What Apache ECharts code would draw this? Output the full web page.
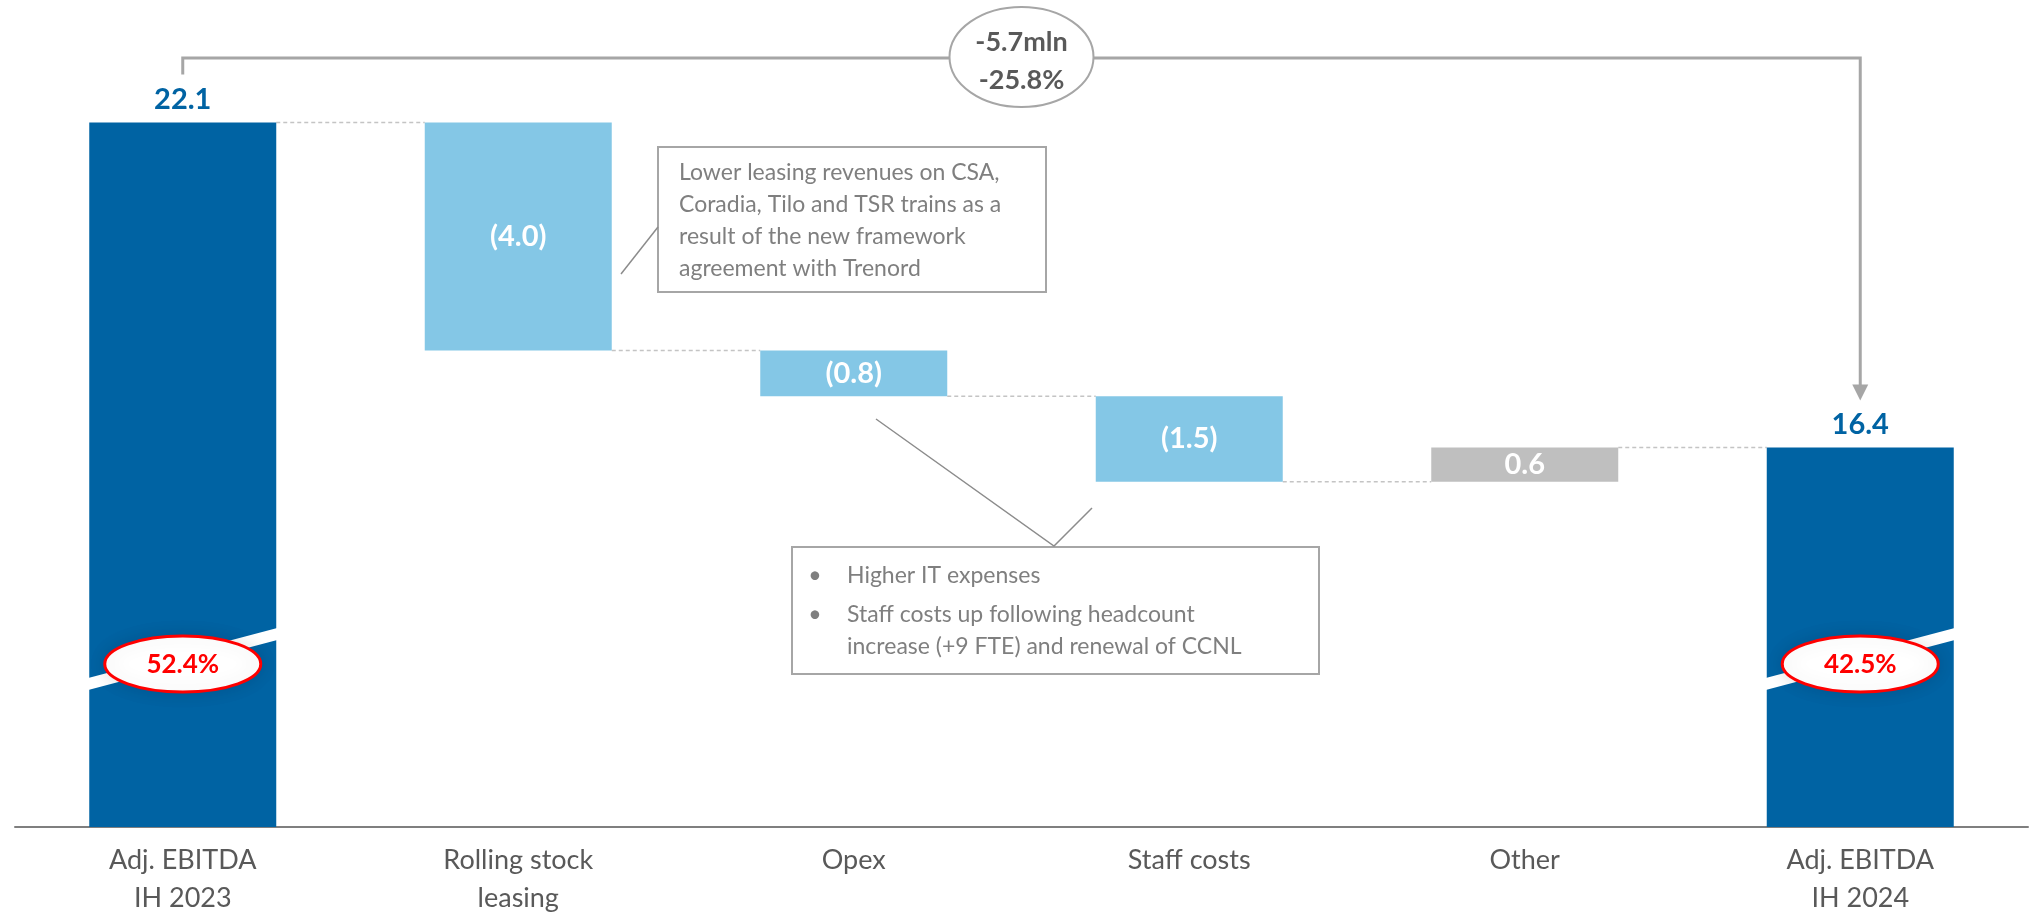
<!DOCTYPE html>
<html lang="en">
<head>
    <meta charset="UTF-8">
    <title>Adj. EBITDA bridge</title>
    <script src="https://cdn.jsdelivr.net/npm/echarts@6/dist/echarts.min.js"></script>
    <style>
        html, body {
            margin: 0;
            height: 100%;
            width: 100%;
            overflow: hidden;
            background: #fff;
        }
        #chart {
            width: 2031px;
            height: 917px;
        }
    </style>
</head>
<body>
<div id="chart"></div>
<script>
    // data
    var categories = ['Adj. EBITDA\nIH 2023', 'Rolling stock\nleasing', 'Opex', 'Staff costs', 'Other', 'Adj. EBITDA\nIH 2024'];
    var startTotal = 22.1;
    var endTotal = 16.4;
    var deltas = [-4.0, -0.8, -1.5, 0.6];
    var barLabels = ['22.1', '(4.0)', '(0.8)', '(1.5)', '0.6', '16.4'];
    var marginLabels = ['52.4%', '42.5%'];
    var changeLabels = ['-5.7mln', '-25.8%'];
    var note1 = ['Lower leasing revenues on CSA,', 'Coradia, Tilo and TSR trains as a', 'result of the new framework', 'agreement with Trenord'];
    var note2a = 'Higher IT expenses';
    var note2b = ['Staff costs up following headcount', 'increase (+9 FTE) and renewal of CCNL'];

    var FONT = 'Lato, "Open Sans", sans-serif';
    var DARK = '#0063A3', LIGHT = '#84C7E6', GREY = '#BFBFBF';
    var barW = 187;

    // waterfall helpers
    var base = [0], visible = [startTotal], levels = [startTotal];
    var running = startTotal;
    deltas.forEach(function (d) {
        if (d < 0) {
            base.push(running + d);
            visible.push(-d);
        } else {
            base.push(running);
            visible.push(d);
        }
        running = Math.round((running + d) * 10) / 10;
        levels.push(running);
    });
    base.push(0);
    visible.push(endTotal);

    var visData = visible.map(function (v, i) {
        var total = (i === 0 || i === visible.length - 1);
        var col = total ? DARK : (deltas[i - 1] < 0 ? LIGHT : GREY);
        return {
            value: v,
            itemStyle: {color: col},
            label: {
                show: true,
                position: total ? 'top' : 'inside',
                distance: 8,
                color: total ? DARK : '#fff',
                formatter: barLabels[i]
            }
        };
    });

    var connData = levels.map(function (v, i) {
        return [i, v];
    });

    var chart = echarts.init(document.getElementById('chart'));
    chart.setOption({
        animation: false,
        grid: {left: 15, right: 3, top: 14, bottom: 87},
        xAxis: {
            type: 'category',
            data: categories,
            axisTick: {show: false},
            axisLine: {lineStyle: {color: '#7F7F7F', width: 2}},
            axisLabel: {
                fontFamily: FONT,
                fontSize: 27,
                color: '#595959',
                lineHeight: 38,
                margin: 14
            }
        },
        yAxis: {
            type: 'value',
            min: 9.75,
            max: 24,
            show: false,
            splitLine: {show: false}
        },
        series: [
            {
                type: 'bar',
                stack: 'wf',
                barWidth: barW,
                itemStyle: {color: 'transparent'},
                data: base,
                silent: true
            },
            {
                type: 'bar',
                stack: 'wf',
                barWidth: barW,
                label: {fontFamily: FONT, fontSize: 29, fontWeight: 'bold'},
                data: visData
            },
            {
                type: 'custom',
                data: connData,
                silent: true,
                z: 1,
                renderItem: function (params, api) {
                    var i = api.value(0), v = api.value(1);
                    var p1 = api.coord([i, v]);
                    var p2 = api.coord([i + 1, v]);
                    return {
                        type: 'line',
                        shape: {x1: p1[0] + barW / 2, y1: p1[1], x2: p2[0] - barW / 2, y2: p2[1]},
                        style: {stroke: '#C4C4C4', lineWidth: 1.5, lineDash: [4, 3]}
                    };
                }
            }
        ]
    });

    // annotations
    var x0 = chart.convertToPixel({xAxisIndex: 0}, 0);
    var x5 = chart.convertToPixel({xAxisIndex: 0}, 5);
    var yStart = chart.convertToPixel({yAxisIndex: 0}, startTotal);
    var yEnd = chart.convertToPixel({yAxisIndex: 0}, endTotal);
    var lineCol = '#A6A6A6';
    var topY = 58;
    var g = [];

    // bracket with arrow
    g.push({
        type: 'polyline', z: 100,
        shape: {points: [[x0, yStart - 48], [x0, topY], [x5, topY], [x5, yEnd - 62]]},
        style: {stroke: lineCol, lineWidth: 3, fill: null}
    });
    g.push({
        type: 'polygon', z: 100,
        shape: {points: [[x5 - 8, yEnd - 63], [x5 + 8, yEnd - 63], [x5, yEnd - 47]]},
        style: {fill: lineCol}
    });
    var midX = (x0 + x5) / 2;
    g.push({
        type: 'ellipse', z: 101,
        shape: {cx: midX, cy: 57, rx: 72, ry: 50},
        style: {fill: '#fff', stroke: lineCol, lineWidth: 2}
    });
    g.push({
        type: 'text', z: 102,
        x: midX, y: 61,
        style: {
            text: changeLabels.join('\n'),
            align: 'center', verticalAlign: 'middle',
            font: 'bold 27px ' + FONT, lineHeight: 38, fill: '#595959'
        }
    });

    // axis-break stripes and margin ovals on the totals
    [x0, x5].forEach(function (cx, k) {
        var yMid = 659;
        g.push({
            type: 'polygon', z: 100,
            shape: {points: [
                [cx - barW / 2 - 1, yMid + 19], [cx - barW / 2 - 1, yMid + 31],
                [cx + barW / 2 + 1, yMid - 19], [cx + barW / 2 + 1, yMid - 31]
            ]},
            style: {fill: '#fff'}
        });
        g.push({
            type: 'ellipse', z: 101,
            shape: {cx: cx, cy: 664, rx: 78, ry: 28},
            style: {fill: '#fff', stroke: '#FF0000', lineWidth: 3,
                shadowBlur: 18, shadowColor: 'rgba(0,0,0,0.12)'}
        });
        g.push({
            type: 'text', z: 102,
            x: cx, y: 665,
            style: {
                text: marginLabels[k], align: 'center', verticalAlign: 'middle',
                font: 'bold 26px ' + FONT, fill: '#FF0000'
            }
        });
    });

    // callout 1
    g.push({
        type: 'rect', z: 100,
        shape: {x: 658, y: 147, width: 388, height: 145},
        style: {fill: '#fff', stroke: lineCol, lineWidth: 2}
    });
    g.push({
        type: 'text', z: 101,
        x: 679, y: 157,
        style: {text: note1.join('\n'), font: '23px ' + FONT, lineHeight: 32, fill: '#7F7F7F', verticalAlign: 'top'}
    });
    g.push({
        type: 'line', z: 100,
        shape: {x1: 621, y1: 274, x2: 658, y2: 227},
        style: {stroke: '#8C8C8C', lineWidth: 1.5}
    });

    // callout 2
    g.push({
        type: 'rect', z: 100,
        shape: {x: 792, y: 547, width: 527, height: 127},
        style: {fill: '#fff', stroke: lineCol, lineWidth: 2}
    });
    g.push({
        type: 'text', z: 101, x: 815, y: 576,
        style: {text: '•', font: '23px ' + FONT, fill: '#7F7F7F', verticalAlign: 'middle', align: 'center'}
    });
    g.push({
        type: 'text', z: 101, x: 847, y: 576,
        style: {text: note2a, font: '23px ' + FONT, fill: '#7F7F7F', verticalAlign: 'middle'}
    });
    g.push({
        type: 'text', z: 101, x: 815, y: 615,
        style: {text: '•', font: '23px ' + FONT, fill: '#7F7F7F', verticalAlign: 'middle', align: 'center'}
    });
    g.push({
        type: 'text', z: 101, x: 847, y: 599,
        style: {text: note2b.join('\n'), font: '23px ' + FONT, lineHeight: 32, fill: '#7F7F7F', verticalAlign: 'top'}
    });
    g.push({
        type: 'polyline', z: 100,
        shape: {points: [[876, 419], [1054, 546], [1092, 508]]},
        style: {stroke: '#8C8C8C', lineWidth: 1.5, fill: null}
    });

    chart.setOption({graphic: g});
</script>
</body>
</html>
